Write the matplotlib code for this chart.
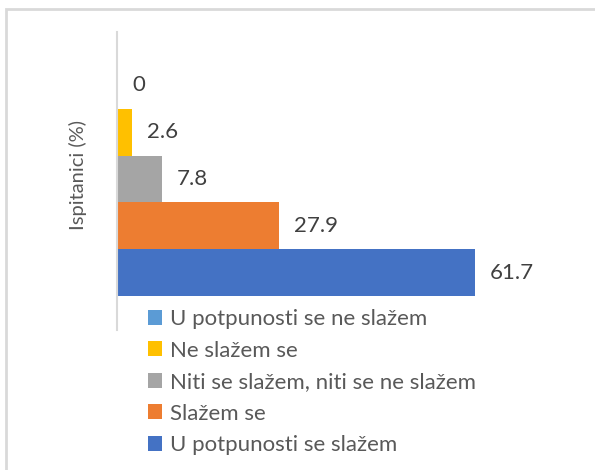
import matplotlib
matplotlib.use("Agg")
from matplotlib import pyplot as plt
from matplotlib.patches import Patch, Rectangle

# data, top bar first
categories = ["U potpunosti se ne slažem", "Ne slažem se",
              "Niti se slažem, niti se ne slažem", "Slažem se",
              "U potpunosti se slažem"]
values = [0, 2.6, 7.8, 27.9, 61.7]
colors = ["#5B9BD5", "#FFC000", "#A5A5A5", "#ED7D31", "#4472C4"]
y_label = "Ispitanici (%)"

plt.rcParams['font.family'] = ['Lato', 'DejaVu Sans']

W, H = 595, 470
fig = plt.figure(figsize=(W / 100, H / 100), dpi=100)

# light frame around chart (only top/left visible)
fig.patches.append(Rectangle((6 / W, -0.1), 1.2, 1 - 9 / H + 0.1, transform=fig.transFigure,
                             fill=False, edgecolor="#D9D9D9", linewidth=2))

ax = fig.add_axes([117 / W, 140 / H, 464 / W, 298 / H])
n = len(values)
ypos = [n - 1 - i for i in range(n)]
ax.barh(ypos, values, height=1.0, color=colors)
for y, v in zip(ypos, values):
    ax.annotate(f"{v:g}", (v, y), xytext=(15, 0), textcoords="offset pixels",
                ha="left", va="center", fontsize=16, color="#404040")

ax.set_xlim(0, 80)
ax.set_ylim(-1.227, n + 0.14)
ax.set_xticks([])
ax.set_yticks([])
for s in ["top", "right", "bottom"]:
    ax.spines[s].set_visible(False)
ax.spines["left"].set_color("#D9D9D9")
ax.spines["left"].set_linewidth(1.5)

fig.text(78 / W, 1 - 175 / H, y_label, rotation=90, ha="center", va="center",
         fontsize=14.5, color="#595959")

handles = [Patch(facecolor=c, edgecolor="none") for c in colors]
fig.legend(handles, categories, loc="upper left", bbox_to_anchor=(148 / W, 1 - 309 / H),
           frameon=False, fontsize=16, labelcolor="#595959",
           handlelength=0.65, handleheight=0.65, handletextpad=0.35, labelspacing=0.52,
           borderaxespad=0, borderpad=0)

fig.savefig("out.png", dpi=100)
